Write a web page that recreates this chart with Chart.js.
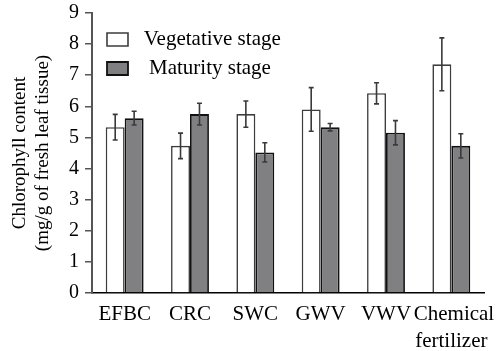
<!DOCTYPE html>
<html>
<head>
<meta charset="utf-8">
<script src="https://cdn.jsdelivr.net/npm/chart.js@4"></script>
<style>
  html, body { margin: 0; padding: 0; background: #fff; }
  #wrap { width: 504px; height: 351px; position: relative; }
</style>
</head>
<body>
<div id="wrap"><canvas id="c" width="504" height="351"></canvas></div>
<script>
const categories = ["EFBC", "CRC", "SWC", "GWV", "VWV", [" Chemical", "fertilizer"]];
const vegetative = [5.33, 4.73, 5.75, 5.90, 6.42, 7.35];
const vegetativeErr = [0.41, 0.41, 0.42, 0.70, 0.34, 0.85];
const maturity = [5.62, 5.75, 4.52, 5.33, 5.15, 4.73];
const maturityErr = [0.22, 0.35, 0.31, 0.12, 0.39, 0.39];
const yTicks = [0, 1, 2, 3, 4, 5, 6, 7, 8, 9];
const seriesNames = [" Vegetative stage", "  Maturity stage"];
const yTitle = ["Chlorophyll content", "(mg/g of fresh leaf tissue)"];

const FONT = "'Liberation Serif', 'Times New Roman', serif";

const errorBars = {
  id: 'errorBars',
  afterDatasetsDraw(chart) {
    const ctx = chart.ctx;
    const yScale = chart.scales.y;
    chart.data.datasets.forEach((ds, di) => {
      const meta = chart.getDatasetMeta(di);
      meta.data.forEach((bar, i) => {
        const v = ds.data[i], e = ds.errors[i];
        const yt = yScale.getPixelForValue(v + e);
        const yb = yScale.getPixelForValue(v - e);
        ctx.save();
        ctx.strokeStyle = '#3a3a3a';
        ctx.lineWidth = 1.6;
        ctx.beginPath();
        ctx.moveTo(bar.x, yt); ctx.lineTo(bar.x, yb);
        ctx.moveTo(bar.x - 2.5, yt); ctx.lineTo(bar.x + 2.5, yt);
        ctx.moveTo(bar.x - 2.5, yb); ctx.lineTo(bar.x + 2.5, yb);
        ctx.stroke();
        ctx.restore();
      });
    });
  }
};

const legendShift = {
  id: 'legendShift',
  afterLayout(chart) {
    const lg = chart.legend;
    if (lg) {
      lg.left = chart.chartArea.left + 7;
      lg.top = chart.chartArea.top + 8;
    }
  }
};

new Chart(document.getElementById('c'), {
  type: 'bar',
  data: {
    labels: categories,
    datasets: [
      {
        label: seriesNames[0],
        data: vegetative,
        errors: vegetativeErr,
        backgroundColor: '#ffffff',
        borderColor: '#3c3c3c',
        borderWidth: 1.6,
        categoryPercentage: 0.58,
        barPercentage: 1.0
      },
      {
        label: seriesNames[1],
        data: maturity,
        errors: maturityErr,
        backgroundColor: '#808083',
        borderColor: '#111111',
        borderWidth: 1.8,
        categoryPercentage: 0.58,
        barPercentage: 1.0
      }
    ]
  },
  options: {
    responsive: false,
    animation: false,
    devicePixelRatio: 1,
    layout: { padding: { left: 0, right: 20, top: 0, bottom: 0 } },
    plugins: {
      tooltip: { enabled: false },
      legend: {
        position: 'chartArea',
        align: 'start',
        labels: {
          color: '#000',
          font: { family: FONT, size: 21 },
          boxWidth: 21,
          boxHeight: 13,
          padding: 8
        }
      }
    },
    scales: {
      x: {
        afterFit(scale) { scale.height = 58; },
        grid: { display: false, drawTicks: false },
        border: { display: true, color: '#000', width: 1.5 },
        ticks: {
          color: '#000',
          font: { family: FONT, size: 21, lineHeight: 1.28 },
          padding: 8,
          maxRotation: 0,
          autoSkip: false
        }
      },
      y: {
        min: 0,
        max: 9,
        afterFit(scale) { scale.width = 92; scale.paddingTop = 13; },
        afterBuildTicks(scale) { scale.ticks = yTicks.map(v => ({ value: v })); },
        grid: { display: true, drawOnChartArea: false, drawTicks: true, tickLength: 7, color: '#555', lineWidth: 1.5 },
        border: { display: true, color: '#555', width: 2 },
        ticks: {
          color: '#000',
          font: { family: FONT, size: 20 },
          padding: 6
        },
        title: {
          display: true,
          text: yTitle,
          color: '#000',
          font: { family: FONT, size: 19, lineHeight: 1.2 },
          padding: { top: 9, bottom: 0 }
        }
      }
    }
  },
  plugins: [errorBars, legendShift]
});
</script>
</body>
</html>
